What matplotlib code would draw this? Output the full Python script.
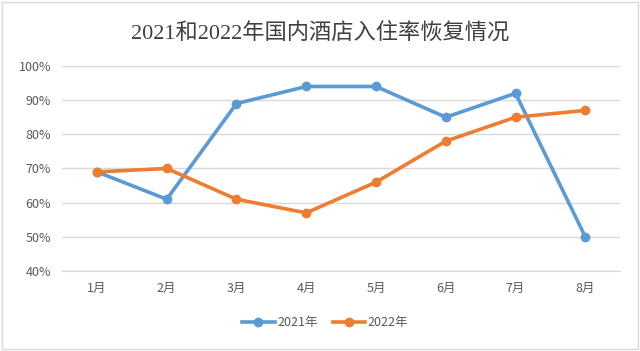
import matplotlib.pyplot as plt
from matplotlib.patches import Rectangle
from matplotlib.ticker import PercentFormatter

plt.rcParams['font.family'] = ['Noto Sans CJK SC', 'DejaVu Sans']

months = ['1月', '2月', '3月', '4月', '5月', '6月', '7月', '8月']
rate_2021 = [69, 61, 89, 94, 94, 85, 92, 50]
rate_2022 = [69, 70, 61, 57, 66, 78, 85, 87]
series_names = ['2021年', '2022年']
title = '2021和2022年国内酒店入住率恢复情况'


def main():
    fig = plt.figure(figsize=(6.4, 3.51), dpi=100)
    ax = fig.add_axes([0.097, 0.228, 0.872, 0.584])
    x = range(len(months))
    ax.plot(x, rate_2021, color='#5B9BD5', lw=2.6, marker='o', ms=6, label=series_names[0], zorder=3)
    ax.plot(x, rate_2022, color='#ED7D31', lw=2.6, marker='o', ms=6, label=series_names[1], zorder=3)

    ax.set_xlim(-0.5, len(months) - 0.5)
    ax.set_ylim(40, 100)
    ax.set_yticks(range(40, 101, 10))
    ax.yaxis.set_major_formatter(PercentFormatter(decimals=0))
    ax.set_xticks(list(x))
    ax.set_xticklabels(months)
    ax.grid(axis='y', color='#D9D9D9', lw=1)
    ax.set_axisbelow(True)
    for s in ['top', 'right', 'left']:
        ax.spines[s].set_visible(False)
    ax.spines['bottom'].set_color('#D9D9D9')
    ax.tick_params(length=0, colors='#595959', labelsize=9, pad=8)

    fig.text(0.5, 0.905, title, ha='center', va='center', fontsize=16, color='#404040',
             family=['Liberation Serif', 'Noto Sans CJK SC'])
    ax.legend(loc='center', bbox_to_anchor=(0.508, 0.08), bbox_transform=fig.transFigure, ncol=2,
              frameon=False, fontsize=9, labelcolor='#595959', handlelength=2.6, columnspacing=1.2,
              handletextpad=0.2)
    fig.patches.append(Rectangle((0.003, 0.005), 0.994, 0.99, transform=fig.transFigure,
                                 fill=False, edgecolor='#D9D9D9', lw=1))
    fig.savefig('out.png', dpi=100)


if __name__ == "__main__":
    main()
